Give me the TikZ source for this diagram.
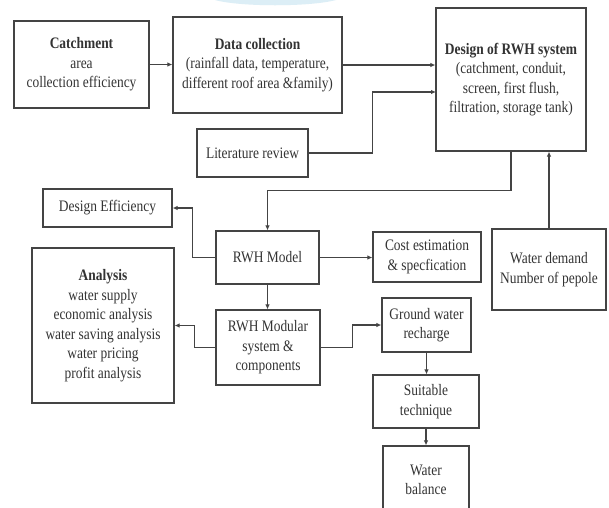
\documentclass[tikz,border=0pt]{standalone}
\usepackage{fontspec}
\setmainfont[FakeStretch=0.84]{Liberation Serif}
\usetikzlibrary{arrows.meta}
\definecolor{ink}{HTML}{333333}
\definecolor{edge}{HTML}{444444}
\definecolor{wm}{HTML}{DCEEF6}
\tikzset{
  box/.style={draw=edge, line width=1.2pt, align=center, inner sep=0pt, text=ink,
    font=\fontsize{16pt}{19.5pt}\selectfont},
  arr/.style={draw=edge, line width=1.2pt, -{Latex[length=5pt,width=4.5pt]}},
  ln/.style={draw=edge, line width=1.2pt}
}
\begin{document}
\begin{tikzpicture}[x=1pt,y=-1pt]
\useasboundingbox[fill=white] (0,0) rectangle (609,507);
% faint watermark at the top
\fill[wm] (215,0) .. controls (240,7) and (310,7) .. (336,0) -- cycle;

\node[box, minimum width=135pt, minimum height=87pt] (catch) at (81.5,64.5)
  {\textbf{Catchment}\\area\\collection efficiency};
\node[box, minimum width=169pt, minimum height=96pt] (data) at (257.5,65)
  {\textbf{Data collection}\\(rainfall data, temperature,\\different roof area \&family)};
\node[box, minimum width=150pt, minimum height=143pt] (design) at (511,79.5)
  {\textbf{Design of RWH system}\\(catchment, conduit,\\screen, first flush,\\filtration, storage tank)};
\node[box, minimum width=111pt, minimum height=48pt] (lit) at (252.5,153) {Literature review};
\node[box, minimum width=129pt, minimum height=38pt] (deff) at (107.5,208) {Design Efficiency};
\node[box, minimum width=103pt, minimum height=53pt] (model) at (267.5,257.5) {RWH Model};
\node[box, minimum width=108pt, minimum height=50pt] (cost) at (427,257) {Cost estimation\\\& specfication};
\node[box, minimum width=114pt, minimum height=81pt] (wd) at (549,269.5) {Water demand\\Number of pepole};
\node[box, minimum width=142pt, minimum height=155pt] (analysis) at (103,325.5)
  {\textbf{Analysis}\\water supply\\economic analysis\\water saving analysis\\water pricing\\profit analysis};
\node[box, minimum width=104pt, minimum height=75pt] (modular) at (268,347.5) {RWH Modular\\system \&\\components};
\node[box, minimum width=89pt, minimum height=54pt] (ground) at (426.5,325) {Ground water\\recharge};
\node[box, minimum width=106pt, minimum height=53pt] (suit) at (426,401.5) {Suitable\\technique};
\node[box, minimum width=86pt, minimum height=68pt] (bal) at (426,480) {Water\\balance};

\coordinate (litin) at (436,92);
\draw[arr] (catch.east) -- (catch.east -| data.west);
\draw[arr] (data.east) -- (data.east -| design.west);
\draw[arr] (lit.east) -- ++(64,0) |- (litin);
\draw[arr] (design.south) -- ++(0,39) -| (model.north);
\draw[arr] (wd.north) -- (wd.north |- design.south);
\draw[arr] (model.west) -- ++(-23,0) |- (deff.east);
\draw[arr] (model.east) -- (model.east -| cost.west);
\draw[arr] (model.south) -- (model.south |- modular.north);
\draw[arr] (modular.west) -- ++(-21,0) |- (analysis.east);
\draw[arr] (modular.east) -- ++(32,0) |- (ground.west);
\draw[arr] (ground.south) -- (ground.south |- suit.north);
\draw[arr] (suit.south) -- (suit.south |- bal.north);
\end{tikzpicture}
\end{document}
